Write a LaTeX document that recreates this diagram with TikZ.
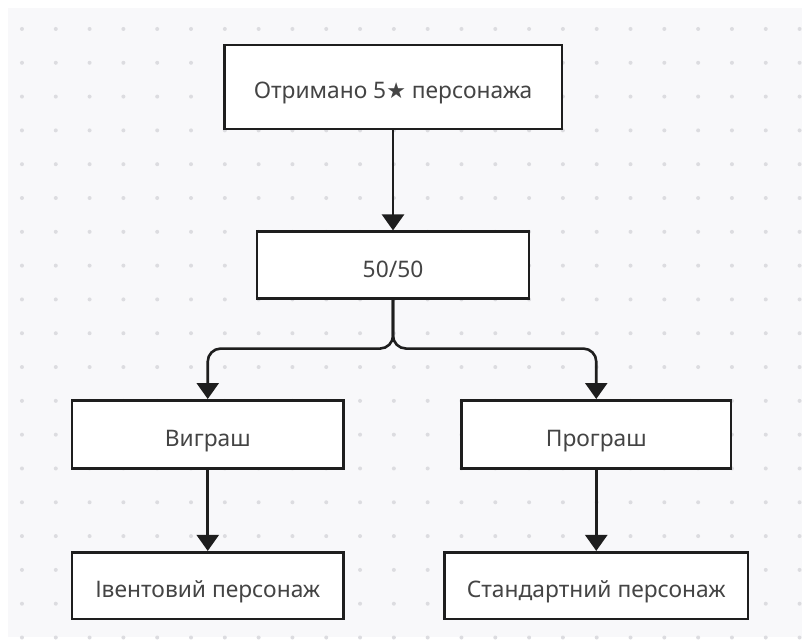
\documentclass[tikz,border=0pt]{standalone}
\usepackage{fontspec}
\setmainfont{Noto Sans}
\newfontfamily\symfont{DejaVu Sans}
\usetikzlibrary{arrows.meta}

\definecolor{canvas}{HTML}{F8F8FA}
\definecolor{griddot}{HTML}{DCDCE0}
\definecolor{ink}{HTML}{1E1E1E}
\definecolor{labeltext}{HTML}{444444}

\tikzset{
  stepbox/.style={draw=ink, fill=white, line width=2.6pt, rectangle,
    inner sep=0pt, text=labeltext, font=\fontsize{22.8}{27}\selectfont,
    text height=24pt, text depth=0pt},
  flow/.style={draw=ink, line width=2.6pt,
    -{Triangle[width=22pt,length=16pt]}},
}

\begin{document}
\begin{tikzpicture}[x=1pt,y=-1pt]
  % page and dotted canvas
  \fill[white] (0,0) rectangle (802,637);
  \fill[canvas] (8,8) rectangle (803,638);
  \foreach \i in {0,...,23}{
    \foreach \j in {0,...,18}{
      \fill[griddot] ({22+33.85*\i},{29+33.85*\j}) circle (2pt);
    }
  }
  \useasboundingbox (0,0) rectangle (802,637);

  % boxes
  \node[stepbox, minimum width=338pt, minimum height=84pt] (got) at (393.5,87)
    {Отримано 5{\symfont\fontsize{22}{26}\selectfont ★} персонажа};
  \node[stepbox, minimum width=272pt, minimum height=67pt] (fifty) at (393.5,265.5) {50/50};
  \node[stepbox, minimum width=272pt, minimum height=68pt] (win) at (208,434.8) {Виграш};
  \node[stepbox, minimum width=270pt, minimum height=68pt] (lose) at (597,434.8) {Програш};
  \node[stepbox, minimum width=272pt, minimum height=67pt] (event) at (208,586.4) {Івентовий персонаж};
  \node[stepbox, minimum width=304pt, minimum height=67pt] (standard) at (597,586.4) {Стандартний персонаж};

  \coordinate (split) at (393.5,349);

  % connectors
  \draw[flow] (got) -- (fifty);
  \draw[flow, rounded corners=13pt] (fifty.south) -- (split) -| (win.north);
  \draw[flow, rounded corners=13pt] (fifty.south) -- (split) -| (lose.north);
  \draw[flow] (win) -- (event);
  \draw[flow] (lose) -- (standard);
\end{tikzpicture}
\end{document}
